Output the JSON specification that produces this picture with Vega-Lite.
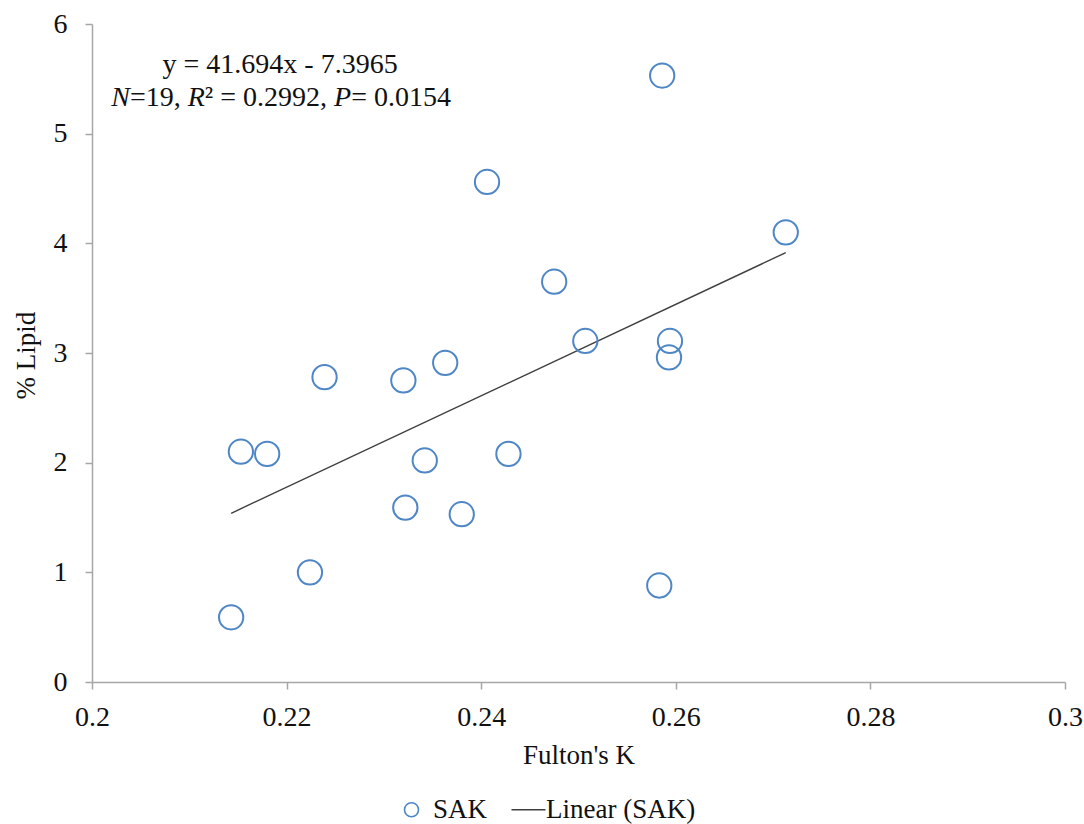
{
  "$schema": "https://vega.github.io/schema/vega-lite/v6.json",
  "width": 973,
  "height": 658,
  "autosize": "none",
  "padding": {"left": 92, "top": 24, "right": 19, "bottom": 142},
  "background": "white",
  "config": {
    "view": {"stroke": null},
    "font": "Liberation Serif",
    "axis": {
      "grid": false,
      "domainColor": "#a6a6a6",
      "domainWidth": 1.5,
      "tickColor": "#a6a6a6",
      "tickWidth": 1.5,
      "tickSize": 7,
      "labelFont": "Liberation Serif",
      "labelFontSize": 28,
      "labelColor": "#111111",
      "labelFlush": false,
      "labelOverlap": false,
      "titleFont": "Liberation Serif",
      "titleFontSize": 27,
      "titleFontWeight": "normal",
      "titleColor": "#111111"
    },
    "legend": {
      "labelFont": "Liberation Serif",
      "labelFontSize": 27,
      "labelColor": "#111111"
    }
  },
  "datasets": {
    "sak": [
      {"k": 0.2143, "lipid": 0.59, "series": "SAK"},
      {"k": 0.2153, "lipid": 2.10, "series": "SAK"},
      {"k": 0.2180, "lipid": 2.08, "series": "SAK"},
      {"k": 0.2224, "lipid": 1.00, "series": "SAK"},
      {"k": 0.2239, "lipid": 2.78, "series": "SAK"},
      {"k": 0.2320, "lipid": 2.75, "series": "SAK"},
      {"k": 0.2322, "lipid": 1.59, "series": "SAK"},
      {"k": 0.2342, "lipid": 2.02, "series": "SAK"},
      {"k": 0.2363, "lipid": 2.91, "series": "SAK"},
      {"k": 0.2380, "lipid": 1.53, "series": "SAK"},
      {"k": 0.2406, "lipid": 4.56, "series": "SAK"},
      {"k": 0.2428, "lipid": 2.08, "series": "SAK"},
      {"k": 0.2475, "lipid": 3.65, "series": "SAK"},
      {"k": 0.2507, "lipid": 3.11, "series": "SAK"},
      {"k": 0.2583, "lipid": 0.88, "series": "SAK"},
      {"k": 0.2586, "lipid": 5.53, "series": "SAK"},
      {"k": 0.2594, "lipid": 3.11, "series": "SAK"},
      {"k": 0.2593, "lipid": 2.96, "series": "SAK"},
      {"k": 0.2713, "lipid": 4.10, "series": "SAK"}
    ],
    "fit": [
      {"k": 0.2143, "lipid": 1.5385, "series": "Linear (SAK)"},
      {"k": 0.2713, "lipid": 3.9151, "series": "Linear (SAK)"}
    ],
    "note": [{}]
  },
  "layer": [
    {
      "data": {"name": "fit"},
      "mark": {"type": "line", "strokeWidth": 1.4},
      "encoding": {
        "x": {
          "field": "k",
          "type": "quantitative",
          "title": "Fulton's K",
          "scale": {"domain": [0.2, 0.3], "nice": false, "zero": false},
          "axis": {
            "values": [0.2, 0.22, 0.24, 0.26, 0.28, 0.3],
            "format": "~g",
            "labelPadding": 14,
            "titleBaseline": "alphabetic",
            "titleY": 81
          }
        },
        "y": {
          "field": "lipid",
          "type": "quantitative",
          "title": "% Lipid",
          "scale": {"domain": [0, 6], "nice": false},
          "axis": {
            "values": [0, 1, 2, 3, 4, 5, 6],
            "format": "d",
            "labelPadding": 18,
            "titleAngle": -90,
            "titleBaseline": "alphabetic",
            "titleX": -58,
            "titleY": 331
          }
        },
        "color": {
          "field": "series",
          "type": "nominal",
          "scale": {"domain": ["SAK", "Linear (SAK)"], "range": ["#4f86c6", "#3f3f3f"]}
        }
      }
    },
    {
      "data": {"name": "sak"},
      "mark": {"type": "point", "filled": false, "strokeWidth": 2, "size": 590, "opacity": 1},
      "encoding": {
        "x": {"field": "k", "type": "quantitative"},
        "y": {"field": "lipid", "type": "quantitative"},
        "color": {
          "field": "series",
          "type": "nominal",
          "scale": {"domain": ["SAK", "Linear (SAK)"], "range": ["#4f86c6", "#3f3f3f"]},
          "legend": {
            "title": null,
            "orient": "none",
            "direction": "horizontal",
            "legendX": 306,
            "legendY": 772,
            "padding": 0,
            "symbolSize": 196,
            "symbolStrokeWidth": 1.6,
            "labelOffset": 8,
            "columnPadding": 20
          }
        },
        "shape": {
          "field": "series",
          "type": "nominal",
          "scale": {"domain": ["SAK", "Linear (SAK)"], "range": ["circle", "M-1.86,0L3,0"]},
          "legend": {
            "title": null,
            "orient": "none",
            "direction": "horizontal",
            "legendX": 306,
            "legendY": 772,
            "padding": 0,
            "symbolSize": 196,
            "symbolStrokeWidth": 1.6,
            "labelOffset": 8,
            "columnPadding": 20
          }
        }
      }
    },
    {
      "data": {"name": "note"},
      "mark": {"type": "text", "align": "center", "baseline": "alphabetic", "fontSize": 28, "color": "#111111"},
      "encoding": {
        "x": {"datum": 0.21933, "type": "quantitative"},
        "y": {"datum": 5.553, "type": "quantitative"},
        "text": {"value": "y = 41.694x - 7.3965"}
      }
    },
    {
      "data": {"name": "note"},
      "mark": {"type": "text", "align": "left", "baseline": "alphabetic", "fontSize": 28, "fontStyle": "italic", "color": "#111111"},
      "encoding": {
        "x": {"datum": 0.201974, "type": "quantitative"},
        "y": {"datum": 5.252, "type": "quantitative"},
        "text": {"value": "N"}
      }
    },
    {
      "data": {"name": "note"},
      "mark": {"type": "text", "align": "left", "baseline": "alphabetic", "fontSize": 28, "color": "#111111"},
      "encoding": {
        "x": {"datum": 0.203897, "type": "quantitative"},
        "y": {"datum": 5.252, "type": "quantitative"},
        "text": {"value": "=19, "}
      }
    },
    {
      "data": {"name": "note"},
      "mark": {"type": "text", "align": "left", "baseline": "alphabetic", "fontSize": 28, "fontStyle": "italic", "color": "#111111"},
      "encoding": {
        "x": {"datum": 0.209841, "type": "quantitative"},
        "y": {"datum": 5.252, "type": "quantitative"},
        "text": {"value": "R"}
      }
    },
    {
      "data": {"name": "note"},
      "mark": {"type": "text", "align": "left", "baseline": "alphabetic", "fontSize": 28, "color": "#111111"},
      "encoding": {
        "x": {"datum": 0.211599, "type": "quantitative"},
        "y": {"datum": 5.252, "type": "quantitative"},
        "text": {"value": "² = 0.2992, "}
      }
    },
    {
      "data": {"name": "note"},
      "mark": {"type": "text", "align": "left", "baseline": "alphabetic", "fontSize": 28, "fontStyle": "italic", "color": "#111111"},
      "encoding": {
        "x": {"datum": 0.224884, "type": "quantitative"},
        "y": {"datum": 5.252, "type": "quantitative"},
        "text": {"value": "P"}
      }
    },
    {
      "data": {"name": "note"},
      "mark": {"type": "text", "align": "left", "baseline": "alphabetic", "fontSize": 28, "color": "#111111"},
      "encoding": {
        "x": {"datum": 0.226643, "type": "quantitative"},
        "y": {"datum": 5.252, "type": "quantitative"},
        "text": {"value": "= 0.0154"}
      }
    }
  ]
}
